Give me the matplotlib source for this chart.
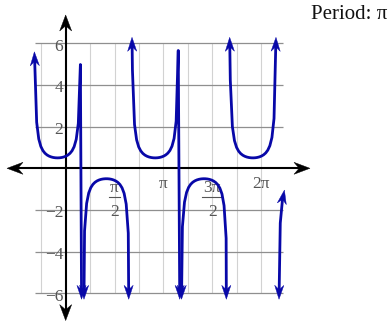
import numpy as np
import matplotlib
matplotlib.use("Agg")
import matplotlib.pyplot as plt
from matplotlib.patches import Polygon

# ---- data: y = amp * sec(b*x + c) ----
amp = 0.5
b_coef = 2.0
c_shift = np.pi / 6
x_domain = (-1.0, 7.0)
y_limit = 6.0
sample_step = 0.06697          # sampling step of the original plotter

x_grid_step = np.pi / 4
y_grid_values = [-6, -4, -2, 2, 4, 6]
y_tick_values = [-6, -4, -2, 2, 4, 6]
y_tick_labels = ["\u22126", "\u22124", "\u22122", "2", "4", "6"]
x_simple_ticks = [np.pi, 2 * np.pi]
x_simple_labels = ["\u03c0", "2\u03c0"]
x_frac_ticks = [np.pi / 2, 3 * np.pi / 2]
x_frac_numerators = ["\u03c0", "3\u03c0"]
x_frac_denominators = ["2", "2"]
title_text = "Period: \u03c0"

CURVE = "#0808a8"
SERIF = "Liberation Serif"
LABEL_COLOR = "#555555"

fig = plt.figure(figsize=(3.91, 3.22), dpi=100)
ax = fig.add_axes([0, 0, 1, 1])
ax.set_xlim(-2.1123, 10.464)
ax.set_ylim(-7.378, 8.079)
ax.axis("off")

def to_px(pts):
    return ax.transData.transform(np.asarray(pts, dtype=float))

def to_data(pts):
    return ax.transData.inverted().transform(np.asarray(pts, dtype=float))

def stealth(tip_px, d, length, half_w, color, z):
    d = np.asarray(d, float)
    d = d / np.hypot(*d)
    n = np.array([-d[1], d[0]])
    tip = np.asarray(tip_px, float)
    back = tip - length * d
    notch = tip - 0.68 * length * d
    poly = np.array([tip, back + half_w * n, notch, back - half_w * n])
    ax.add_patch(Polygon(to_data(poly), closed=True, facecolor=color,
                         edgecolor=color, lw=0.3, zorder=z))

# ---- grid ----
kmin = int(np.ceil(x_domain[0] / x_grid_step))
kmax = int(np.floor(x_domain[1] / x_grid_step))
vx = [k * x_grid_step for k in range(kmin, kmax + 1) if k != 0]
ax.vlines(vx, -y_limit, y_limit, colors="#d2d2d2", lw=0.8, zorder=1)
ax.hlines(y_grid_values, x_domain[0], x_domain[1], colors="#8f8f8f", lw=0.9, zorder=1)

# ---- axes with double arrows ----
x_axis_ends = (-1.887, 7.858)
y_axis_ends = (-7.31, 7.36)
p = to_px([[x_axis_ends[0], 0], [x_axis_ends[1], 0]])
ax.plot(to_data([p[0] + [8, 0], p[1] - [8, 0]])[:, 0], [0, 0], color="black", lw=1.5, zorder=4,
        solid_capstyle="butt")
stealth(p[0], [-1, 0], 16, 6, "black", 4)
stealth(p[1], [1, 0], 16, 6, "black", 4)
p = to_px([[0, y_axis_ends[0]], [0, y_axis_ends[1]]])
ax.plot([0, 0], to_data([p[0] + [0, 8], p[1] - [0, 8]])[:, 1], color="black", lw=1.5, zorder=4,
        solid_capstyle="butt")
stealth(p[0], [0, -1], 16, 6, "black", 4)
stealth(p[1], [0, 1], 16, 6, "black", 4)

# ---- tick labels ----
px_per_y = to_px([[0, 1]])[0, 1] - to_px([[0, 0]])[0, 1]
px_per_x = to_px([[1, 0]])[0, 0] - to_px([[0, 0]])[0, 0]
for v, lab in zip(y_tick_values, y_tick_labels):
    ax.text(-2.5 / px_per_x, v - 7.3 / px_per_y, lab, ha="right", va="baseline",
            fontsize=12.5, family=SERIF, color=LABEL_COLOR, zorder=2)
for v, lab in zip(x_simple_ticks, x_simple_labels):
    ax.text(v, -19.7 / px_per_y, lab, ha="center", va="baseline",
            fontsize=12.5, family=SERIF, color=LABEL_COLOR, zorder=2)
fig.canvas.draw()
renderer = fig.canvas.get_renderer()
for v, num, den in zip(x_frac_ticks, x_frac_numerators, x_frac_denominators):
    tn = ax.text(v, -23.5 / px_per_y, num, ha="center", va="baseline",
                 fontsize=12.5, family=SERIF, color=LABEL_COLOR, zorder=2)
    td = ax.text(v, -48.0 / px_per_y, den, ha="center", va="baseline",
                 fontsize=12.5, family=SERIF, color=LABEL_COLOR, zorder=2)
    w = max(tn.get_window_extent(renderer).width, td.get_window_extent(renderer).width) + 2
    ax.plot([v - w / 2 / px_per_x, v + w / 2 / px_per_x], [-28.4 / px_per_y] * 2,
            color=LABEL_COLOR, lw=0.8, zorder=2)

fig.text(387 / 391, 1 - 19 / 322, title_text, ha="right", va="baseline",
         fontsize=15, family=SERIF, color="#111111")

# ---- the curve, emulating the sampled/clipped rendering ----
def f(x):
    return amp / np.cos(b_coef * x + c_shift)

xs = np.arange(x_domain[0], x_domain[1], sample_step)
if x_domain[1] - xs[-1] > 1e-9:
    xs = np.append(xs, x_domain[1])
ys = f(xs)
inside = np.abs(ys) <= y_limit

paths = []
cur = None
for i in range(len(xs)):
    if inside[i]:
        if cur is None:
            cur = []
            if i > 0:
                xp, yp = xs[i - 1], ys[i - 1]
                bound = np.sign(ys[i]) * y_limit
                if np.sign(yp) == np.sign(ys[i]):
                    t = (bound - yp) / (ys[i] - yp)
                    cur.append((xp + t * (xs[i] - xp), bound))
                else:
                    xf = np.linspace(xp, xs[i], 4001)
                    yf = f(xf)
                    m = (np.sign(yf) == np.sign(ys[i])) & (np.abs(yf) > y_limit)
                    j = np.nonzero(m)[0][-1]
                    t = (bound - yf[j]) / (yf[j + 1] - yf[j])
                    cur.append((xf[j] + t * (xf[j + 1] - xf[j]), bound))
        cur.append((xs[i], ys[i]))
    else:
        if cur is not None:
            xp, yp = xs[i - 1], ys[i - 1]
            bound = np.sign(ys[i]) * y_limit
            t = (bound - yp) / (ys[i] - yp)
            cur.append((xp + t * (xs[i] - xp), bound))
            paths.append(np.array(cur))
            cur = None
if cur is not None:
    paths.append(np.array(cur))

for path in paths:
    ax.plot(path[:, 0], path[:, 1], color=CURVE, lw=2.0, zorder=5,
            solid_capstyle="butt", solid_joinstyle="round")
    pp = to_px(path)
    d_end = pp[-1] - pp[-2]
    d_end = d_end / np.hypot(*d_end)
    stealth(pp[-1] + 6 * d_end, d_end, 14, 4.6, CURVE, 6)
    d_st = pp[0] - pp[1]
    d_st = d_st / np.hypot(*d_st)
    stealth(pp[0] + 6 * d_st, d_st, 14, 4.6, CURVE, 6)

fig.savefig("out.png", dpi=100)
